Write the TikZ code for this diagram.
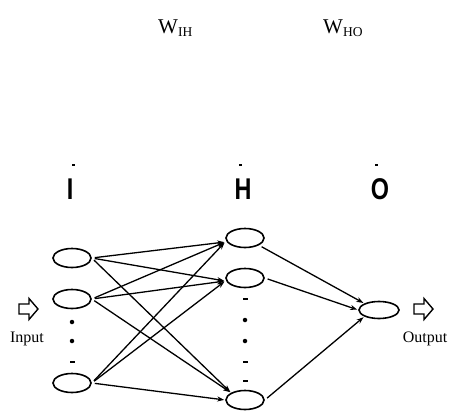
\documentclass[tikz,border=0pt]{standalone}
\usepackage{fontspec}
\setmainfont{Liberation Serif}
\newfontfamily\arialfont{Liberation Sans}
\usetikzlibrary{shapes.geometric,arrows.meta}
\tikzset{
  neuron/.style={draw, ellipse, line width=1.6pt, minimum width=38pt, minimum height=19pt, inner sep=0pt},
  conn/.style={line width=1.3pt, -{Stealth[length=7pt,width=5pt]}, shorten <=3pt, shorten >=1pt},
  layerlbl/.style={anchor=base, font=\arialfont\bfseries\fontsize{30}{32}\selectfont, xscale=0.78, inner sep=0pt},
  wlbl/.style={anchor=base west, inner sep=0pt},
  iolbl/.style={anchor=base, font=\fontsize{16}{18}\selectfont, inner sep=0pt},
  blockarrow/.style={draw, line width=1.4pt, line join=miter},
  dotmark/.style={fill=black, circle, inner sep=0pt, minimum size=4.5pt},
  dashmark/.style={fill=black, rectangle, inner sep=0pt, minimum width=5pt, minimum height=2.2pt},
  tick/.style={fill=black, rectangle, inner sep=0pt, minimum width=3pt, minimum height=1.5pt}
}
\begin{document}
\begin{tikzpicture}[x=1pt,y=-1pt]
\useasboundingbox (0,0) rectangle (450,410);
% weight labels
\node[wlbl] (wih) at (158,33) {\fontsize{21}{24}\selectfont W\raisebox{-3pt}{\fontsize{13.5}{15}\selectfont IH}};
\node[wlbl] (who) at (323,33) {\fontsize{21}{24}\selectfont W\raisebox{-3pt}{\fontsize{13.5}{15}\selectfont HO}};
% layer labels
\node[tick] (ti) at (73,165) {};
\node[tick] (th) at (240,165) {};
\node[tick] (to) at (376,165) {};
\node[layerlbl] (li) at (70,199) {I};
\node[layerlbl] (lh) at (243,199) {H};
\node[layerlbl] (lo) at (380,199) {O};
% neurons
\node[neuron] (i1) at (72,258) {};
\node[neuron] (i2) at (72,299) {};
\node[neuron] (i3) at (72,383) {};
\node[neuron] (h1) at (245,238) {};
\node[neuron] (h2) at (245,278) {};
\node[neuron] (h3) at (245,400) {};
\node[neuron, minimum width=40pt, minimum height=17pt] (o1) at (379,310) {};
% ellipsis marks
\node[dotmark] (di1) at (72,322) {};
\node[dotmark] (di2) at (72,341) {};
\node[dashmark] (di3) at (72,362) {};
\node[dashmark] (dh1) at (245,299) {};
\node[dotmark] (dh2) at (245,320) {};
\node[dotmark] (dh3) at (245,341) {};
\node[dashmark] (dh4) at (245,362) {};
\node[dashmark] (dh5) at (245,381) {};
% input / output block arrows
\draw[blockarrow] (19,304) -- (29,304) -- (29,298.5) -- (38,309) -- (29,319.5) -- (29,314) -- (19,314) -- cycle;
\draw[blockarrow] (414,304) -- (424,304) -- (424,298.5) -- (433,309) -- (424,319.5) -- (424,314) -- (414,314) -- cycle;
\node[iolbl] (tin) at (27,342) {Input};
\node[iolbl] (tout) at (425,342) {Output};
% connections input -> hidden
\coordinate (h1in) at ([yshift=-4pt]h1.west);
\coordinate (h2in) at ([yshift=-3pt]h2.west);
\draw[conn] (i1.east) -- (h1in);
\draw[conn] (i1.east) -- (h2in);
\draw[conn] (i1.east) -- (h3.north west);
\draw[conn] (i2.east) -- (h1in);
\draw[conn] (i2.east) -- (h2in);
\draw[conn] (i2.east) -- (h3.north west);
\draw[conn] (i3.east) -- (h1in);
\draw[conn] (i3.east) -- (h2in);
\draw[conn] (i3.east) -- (h3.west);
% hidden -> output
\draw[conn] (h1.south east) -- (o1.north west);
\draw[conn] (h2.east) -- (o1.west);
\draw[conn] (h3.east) -- (o1.south west);
\end{tikzpicture}
\end{document}
